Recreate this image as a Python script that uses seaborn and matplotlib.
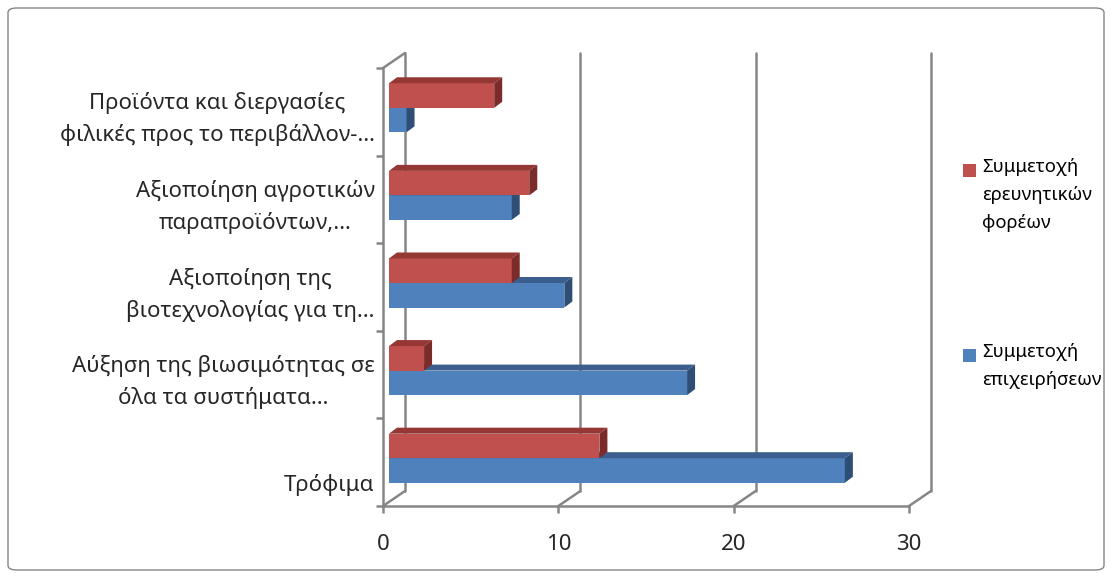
# Horizontal 3D-style bar chart: participation of businesses vs research bodies

import pandas as pd
import matplotlib

matplotlib.use("Agg")
import matplotlib.pyplot as plt
import seaborn as sns
from matplotlib.patches import Polygon, Rectangle, FancyBboxPatch
from matplotlib.lines import Line2D
from matplotlib.transforms import ScaledTranslation, blended_transform_factory

# Data
categories = [
    "Προϊόντα και διεργασίες\nφιλικές προς το περιβάλλον-…",
    "Αξιοποίηση αγροτικών\nπαραπροϊόντων,…",
    "Αξιοποίηση της\nβιοτεχνολογίας για τη…",
    "Αύξηση της βιωσιμότητας σε\nόλα τα συστήματα…",
    "\nΤρόφιμα",
]
research = [6, 8, 7, 2, 12]
business = [1, 7, 10, 17, 26]
series_names = ["Συμμετοχή\nερευνητικών\nφορέων", "Συμμετοχή\nεπιχειρήσεων"]
x_ticks = [0, 10, 20, 30]

RED = "#C0504D"
BLUE = "#4F81BD"
RED_TOP, RED_SIDE = "#953735", "#7B2C2A"
BLUE_TOP, BLUE_SIDE = "#3B5E8C", "#2F4E75"
GRAY = "#868686"

W, H = 1112, 578

sns.set_style("white")
plt.rcParams["font.family"] = ["Noto Sans", "DejaVu Sans"]

df = pd.DataFrame(
    {
        "category": categories * 2,
        "value": research + business,
        "series": [series_names[0]] * len(categories) + [series_names[1]] * len(categories),
    }
)

fig = plt.figure(figsize=(W / 100, H / 100), dpi=100)
ax = fig.add_axes([383 / W, 72 / H, 526 / W, 438 / H])

sns.barplot(
    data=df,
    x="value",
    y="category",
    hue="series",
    hue_order=series_names,
    order=categories,
    palette=[RED, BLUE],
    width=0.56,
    saturation=1,
    orient="h",
    legend=False,
    ax=ax,
)

ax.set_xlim(0, 30)
ax.set_ylim(len(categories) - 0.5, -0.5)
ax.set_xlabel("")
ax.set_ylabel("")

# data units per pixel
px_x = 30 / 526
px_y = len(categories) / 438

# shift the bars into the middle of the depth and add top/side faces
bar_shift = ScaledTranslation(6 / 100, 4 / 100, fig.dpi_scale_trans)
depth_x, depth_y = 8 * px_x, 6 * px_y
bars = list(ax.patches)
for i, bar in enumerate(bars):
    is_red = i < len(categories)
    z = 4 if is_red else 3
    trans = ax.transData + bar_shift
    bar.set_transform(trans)
    bar.set_zorder(z)
    bar.set_edgecolor("none")
    x0, y0 = bar.get_x(), bar.get_y()
    w, h = bar.get_width(), bar.get_height()
    top = Polygon(
        [(x0, y0), (x0 + w, y0), (x0 + w + depth_x, y0 - depth_y), (x0 + depth_x, y0 - depth_y)],
        closed=True, facecolor=RED_TOP if is_red else BLUE_TOP, edgecolor="none",
        transform=trans, zorder=z, clip_on=False,
    )
    side = Polygon(
        [(x0 + w, y0), (x0 + w + depth_x, y0 - depth_y), (x0 + w + depth_x, y0 + h - depth_y), (x0 + w, y0 + h)],
        closed=True, facecolor=RED_SIDE if is_red else BLUE_SIDE, edgecolor="none",
        transform=trans, zorder=z, clip_on=False,
    )
    ax.add_patch(top)
    ax.add_patch(side)

# axes styling (front walls)
for s in ["top", "right"]:
    ax.spines[s].set_visible(False)
for s in ["left", "bottom"]:
    ax.spines[s].set_color(GRAY)
    ax.spines[s].set_linewidth(1.8)

ax.set_xticks(x_ticks)
ax.set_xticklabels([str(t) for t in x_ticks])
ax.tick_params(axis="x", direction="out", length=5, width=1.8, color=GRAY,
               labelsize=16, pad=15, bottom=True)
ax.set_yticks(range(len(categories)))
ax.set_yticks([i - 0.5 for i in range(len(categories) + 1)], minor=True)
ax.tick_params(axis="y", which="major", length=0, labelsize=16, pad=6)
ax.tick_params(axis="y", which="minor", length=5, width=1.8, color=GRAY, left=True)
for lab in ax.get_yticklabels():
    lab.set_multialignment("center")
    lab.set_linespacing(1.6)
ax.grid(False)

# back wall gridlines and floor lines
back = ScaledTranslation(22 / 100, 15 / 100, fig.dpi_scale_trans)
bt = blended_transform_factory(ax.transData, ax.transAxes)
fig.canvas.draw()
for t in x_ticks:
    ax.plot([t, t], [0, 1], color=GRAY, lw=1.8, transform=bt + back, clip_on=False, zorder=1)
    px0, py0 = bt.transform((t, 0))
    fig.add_artist(Line2D([px0 / W, (px0 + 22) / W], [py0 / H, (py0 + 15) / H],
                          color=GRAY, lw=1.8, transform=fig.transFigure, zorder=1))
pxt, pyt = bt.transform((0, 1))
fig.add_artist(Line2D([pxt / W, (pxt + 22) / W], [pyt / H, (pyt + 15) / H],
                      color=GRAY, lw=1.8, transform=fig.transFigure, zorder=1))

# legend, handles aligned with the first line of each label
legend_tops = [158, 343]
for name, color, top in zip(series_names, [RED, BLUE], legend_tops):
    fig.add_artist(Rectangle((963 / W, 1 - (top + 19) / H), 13 / W, 13 / H,
                             facecolor=color, edgecolor="none", transform=fig.transFigure))
    fig.text(982 / W, 1 - top / H, name, fontsize=13.3, va="top", ha="left",
             linespacing=1.7, color="#000000")

# chart area border
fig.add_artist(FancyBboxPatch((8 / W, 8 / H), 1096 / W, 562 / H,
                              boxstyle="round,pad=0,rounding_size=0.008",
                              facecolor="none", edgecolor=GRAY, lw=1.0,
                              transform=fig.transFigure))

fig.savefig("out.png", dpi=100)
